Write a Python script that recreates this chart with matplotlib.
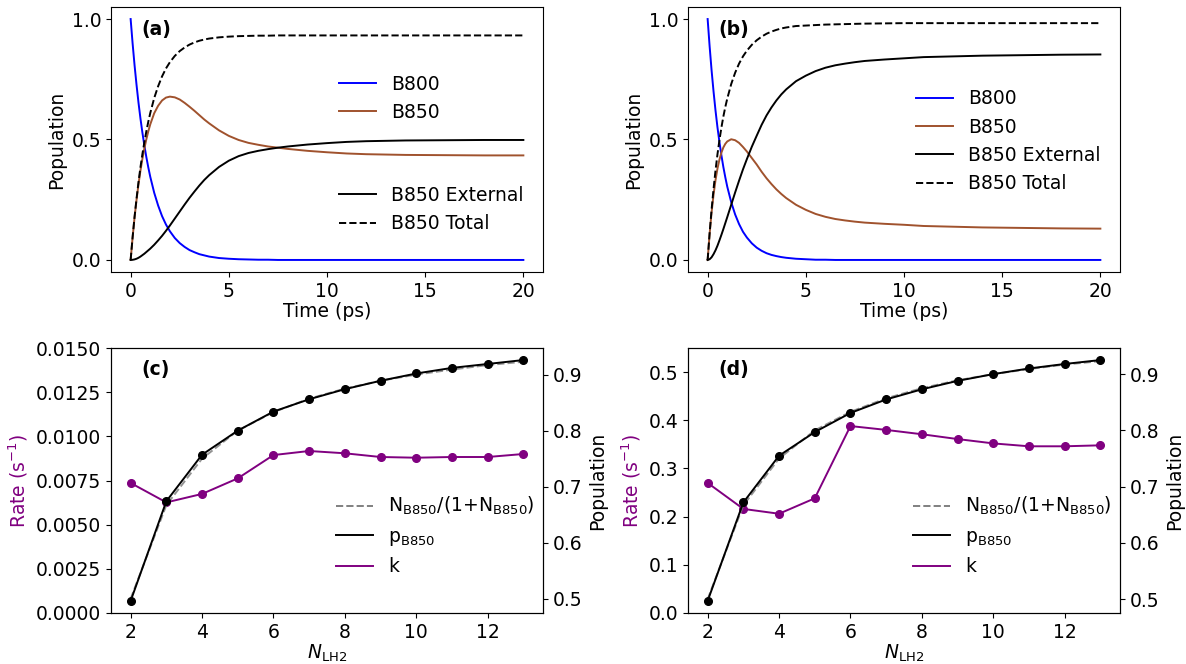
import matplotlib
matplotlib.use('Agg')
import matplotlib.pyplot as plt
from matplotlib.lines import Line2D

plt.rcParams['font.family'] = ['DejaVu Sans']
plt.rcParams['font.size'] = 13.5
plt.rcParams['mathtext.default'] = 'regular'

# ---------------- data: panels (a) and (b) ----------------
t_ps = [0, 0.1, 0.2, 0.3, 0.4, 0.5, 0.6, 0.7, 0.8, 0.9,
        1.0, 1.2, 1.4, 1.6, 1.8, 2.0, 2.25, 2.5, 2.75, 3.0,
        3.25, 3.5, 3.75, 4.0, 4.5, 5.0, 5.5, 6.0, 6.5, 7.0,
        7.5, 8.0, 9.0, 10.0, 11.0, 12.0, 14.0, 16.0, 18.0, 20.0]

b800_a = [1.0, 0.899, 0.808, 0.727, 0.653, 0.587, 0.528, 0.475, 0.427, 0.384,
          0.345, 0.279, 0.226, 0.182, 0.147, 0.119, 0.091, 0.070, 0.054, 0.041,
          0.032, 0.024, 0.019, 0.014, 0.008, 0.005, 0.003, 0.002, 0.001, 0.001,
          0.0, 0.0, 0.0, 0.0, 0.0, 0.0, 0.0, 0.0, 0.0, 0.0]
b850_a = [0.0, 0.093, 0.177, 0.249, 0.314, 0.371, 0.420, 0.463, 0.501, 0.534,
          0.563, 0.609, 0.640, 0.662, 0.674, 0.678, 0.675, 0.666, 0.652, 0.636,
          0.619, 0.601, 0.583, 0.567, 0.538, 0.515, 0.498, 0.486, 0.478, 0.471,
          0.466, 0.461, 0.453, 0.447, 0.442, 0.439, 0.436, 0.435, 0.434, 0.434]
ext_a = [0.0, 0.0006, 0.0023, 0.005, 0.009, 0.014, 0.020, 0.026, 0.033, 0.040,
         0.047, 0.063, 0.081, 0.100, 0.121, 0.143, 0.172, 0.201, 0.230, 0.258,
         0.284, 0.309, 0.332, 0.352, 0.386, 0.412, 0.431, 0.444, 0.453, 0.460,
         0.466, 0.471, 0.479, 0.485, 0.490, 0.493, 0.496, 0.497, 0.498, 0.498]
total_a = [0.0, 0.094, 0.179, 0.254, 0.323, 0.385, 0.440, 0.489, 0.534, 0.574,
           0.610, 0.672, 0.721, 0.762, 0.795, 0.821, 0.847, 0.867, 0.882, 0.894,
           0.903, 0.910, 0.915, 0.919, 0.924, 0.927, 0.929, 0.930, 0.931, 0.931,
           0.932, 0.932, 0.932, 0.932, 0.932, 0.932, 0.932, 0.932, 0.932, 0.932]

b800_b = [1.0, 0.888, 0.788, 0.700, 0.621, 0.551, 0.490, 0.435, 0.386, 0.343,
          0.304, 0.240, 0.189, 0.149, 0.117, 0.093, 0.069, 0.051, 0.038, 0.028,
          0.021, 0.016, 0.012, 0.009, 0.005, 0.003, 0.001, 0.001, 0.0, 0.0,
          0.0, 0.0, 0.0, 0.0, 0.0, 0.0, 0.0, 0.0, 0.0, 0.0]
b850_b = [0.0, 0.107, 0.197, 0.270, 0.331, 0.379, 0.416, 0.445, 0.467, 0.482,
          0.492, 0.501, 0.497, 0.486, 0.469, 0.450, 0.423, 0.396, 0.366, 0.339,
          0.315, 0.293, 0.274, 0.257, 0.229, 0.208, 0.191, 0.179, 0.170, 0.164,
          0.159, 0.155, 0.150, 0.146, 0.141, 0.139, 0.135, 0.133, 0.131, 0.130]
ext_b = [0.0, 0.003, 0.011, 0.024, 0.040, 0.059, 0.081, 0.104, 0.128, 0.153,
         0.178, 0.229, 0.280, 0.329, 0.376, 0.419, 0.470, 0.516, 0.561, 0.600,
         0.633, 0.662, 0.687, 0.708, 0.742, 0.765, 0.784, 0.798, 0.808, 0.815,
         0.821, 0.826, 0.832, 0.837, 0.842, 0.844, 0.848, 0.850, 0.852, 0.853]
total_b = [0.0, 0.110, 0.208, 0.294, 0.371, 0.438, 0.497, 0.549, 0.595, 0.635,
           0.670, 0.730, 0.777, 0.815, 0.845, 0.869, 0.893, 0.912, 0.927, 0.939,
           0.948, 0.955, 0.961, 0.965, 0.971, 0.973, 0.975, 0.977, 0.978, 0.979,
           0.980, 0.981, 0.982, 0.983, 0.983, 0.983, 0.983, 0.983, 0.983, 0.983]

# ---------------- data: panels (c) and (d) ----------------
n_lh2 = [2, 3, 4, 5, 6, 7, 8, 9, 10, 11, 12, 13]
ratio_ideal = [0.5, 0.667, 0.75, 0.8, 0.833, 0.857, 0.875, 0.889, 0.9, 0.909, 0.917, 0.923]
p_b850_c = [0.496, 0.674, 0.757, 0.8, 0.834, 0.856, 0.874, 0.889, 0.902, 0.912, 0.919, 0.926]
k_c = [0.00736, 0.00626, 0.00674, 0.00762, 0.00894, 0.00917, 0.00904, 0.00883, 0.00879,
       0.00883, 0.00883, 0.00900]
p_b850_d = [0.497, 0.672, 0.755, 0.797, 0.831, 0.855, 0.873, 0.888, 0.900, 0.910, 0.918, 0.925]
k_d = [0.270, 0.216, 0.206, 0.238, 0.388, 0.380, 0.371, 0.361, 0.352, 0.346, 0.346, 0.348]

# ---------------- styling ----------------
C_B800 = 'blue'
C_B850 = 'sienna'
C_K = 'purple'
C_IDEAL = 'gray'

fig = plt.figure(figsize=(11.86, 6.64), dpi=100)
W, H = 1186.0, 664.0


def axes_px(x0, y0, x1, y1):
    return fig.add_axes([x0 / W, 1 - y1 / H, (x1 - x0) / W, (y1 - y0) / H])


ax_a = axes_px(111, 7, 543, 272)
ax_b = axes_px(688, 7, 1120, 272)
ax_c = axes_px(111, 348, 543, 613)
ax_d = axes_px(688, 348, 1120, 613)


def top_panel(ax, b800, b850, ext, total, tag, split_legend):
    l1, = ax.plot(t_ps, b800, color=C_B800, lw=1.4, label='B800')
    l2, = ax.plot(t_ps, b850, color=C_B850, lw=1.4, label='B850')
    l3, = ax.plot(t_ps, ext, color='black', lw=1.4, label='B850 External')
    l4, = ax.plot(t_ps, total, color='black', lw=1.4, ls='--', label='B850 Total')
    ax.set_xlim(-1, 21)
    ax.set_ylim(-0.05, 1.05)
    ax.set_xticks([0, 5, 10, 15, 20])
    ax.set_yticks([0.0, 0.5, 1.0])
    ax.set_xlabel('Time (ps)', labelpad=1)
    ax.set_ylabel('Population')
    ax.text(0.07, 0.915, tag, transform=ax.transAxes, fontweight='bold',
            ha='left', va='center')
    if split_legend:
        leg1 = ax.legend(handles=[l1, l2], loc='upper left', bbox_to_anchor=(0.527, 0.745),
                         frameon=False, borderpad=0, borderaxespad=0)
        ax.add_artist(leg1)
        ax.legend(handles=[l3, l4], loc='upper left', bbox_to_anchor=(0.527, 0.325),
                  frameon=False, borderpad=0, borderaxespad=0)
    else:
        ax.legend(handles=[l1, l2, l3, l4], loc='upper left', bbox_to_anchor=(0.527, 0.69),
                  frameon=False, borderpad=0, borderaxespad=0)


top_panel(ax_a, b800_a, b850_a, ext_a, total_a, '(a)', True)
top_panel(ax_b, b800_b, b850_b, ext_b, total_b, '(b)', False)


def bottom_panel(ax, k, p, tag, yticks, ylim, fmt):
    ax.plot(n_lh2, k, color=C_K, lw=1.4, marker='o', ms=5.5)
    ax.set_ylim(*ylim)
    ax.set_yticks(yticks)
    ax.set_yticklabels([fmt % v for v in yticks])
    ax.set_xticks([2, 4, 6, 8, 10, 12])
    ax.set_xlabel(r'$\mathit{N}_{\mathrm{LH2}}$', labelpad=1)
    ax.set_ylabel(r'Rate (s$^{-1}$)', color=C_K)
    ax.text(0.07, 0.917, tag, transform=ax.transAxes, fontweight='bold',
            ha='left', va='center')
    ax2 = ax.twinx()
    ax2.plot(n_lh2, ratio_ideal, color=C_IDEAL, lw=1.4, ls='--', alpha=0.85)
    ax2.plot(n_lh2, p, color='black', lw=1.4, marker='o', ms=5.5)
    ax2.set_yticks([0.5, 0.6, 0.7, 0.8, 0.9])
    ax2.set_ylabel('Population')
    ax.set_xlim(1.45, 13.55)
    handles = [Line2D([], [], color=C_IDEAL, lw=1.4, ls='--'),
               Line2D([], [], color='black', lw=1.4),
               Line2D([], [], color=C_K, lw=1.4)]
    labels = [r'N$_{\mathrm{B850}}$/(1+N$_{\mathrm{B850}}$)', r'p$_{\mathrm{B850}}$', 'k']
    ax2.legend(handles, labels, loc='upper left', bbox_to_anchor=(0.52, 0.445),
               frameon=False, borderpad=0, borderaxespad=0)


bottom_panel(ax_c, k_c, p_b850_c, '(c)',
             [0.0, 0.0025, 0.005, 0.0075, 0.01, 0.0125, 0.015], (0, 0.015), '%.4f')
bottom_panel(ax_d, k_d, p_b850_d, '(d)',
             [0.0, 0.1, 0.2, 0.3, 0.4, 0.5], (0, 0.55), '%.1f')

fig.savefig('out.png', dpi=100)
